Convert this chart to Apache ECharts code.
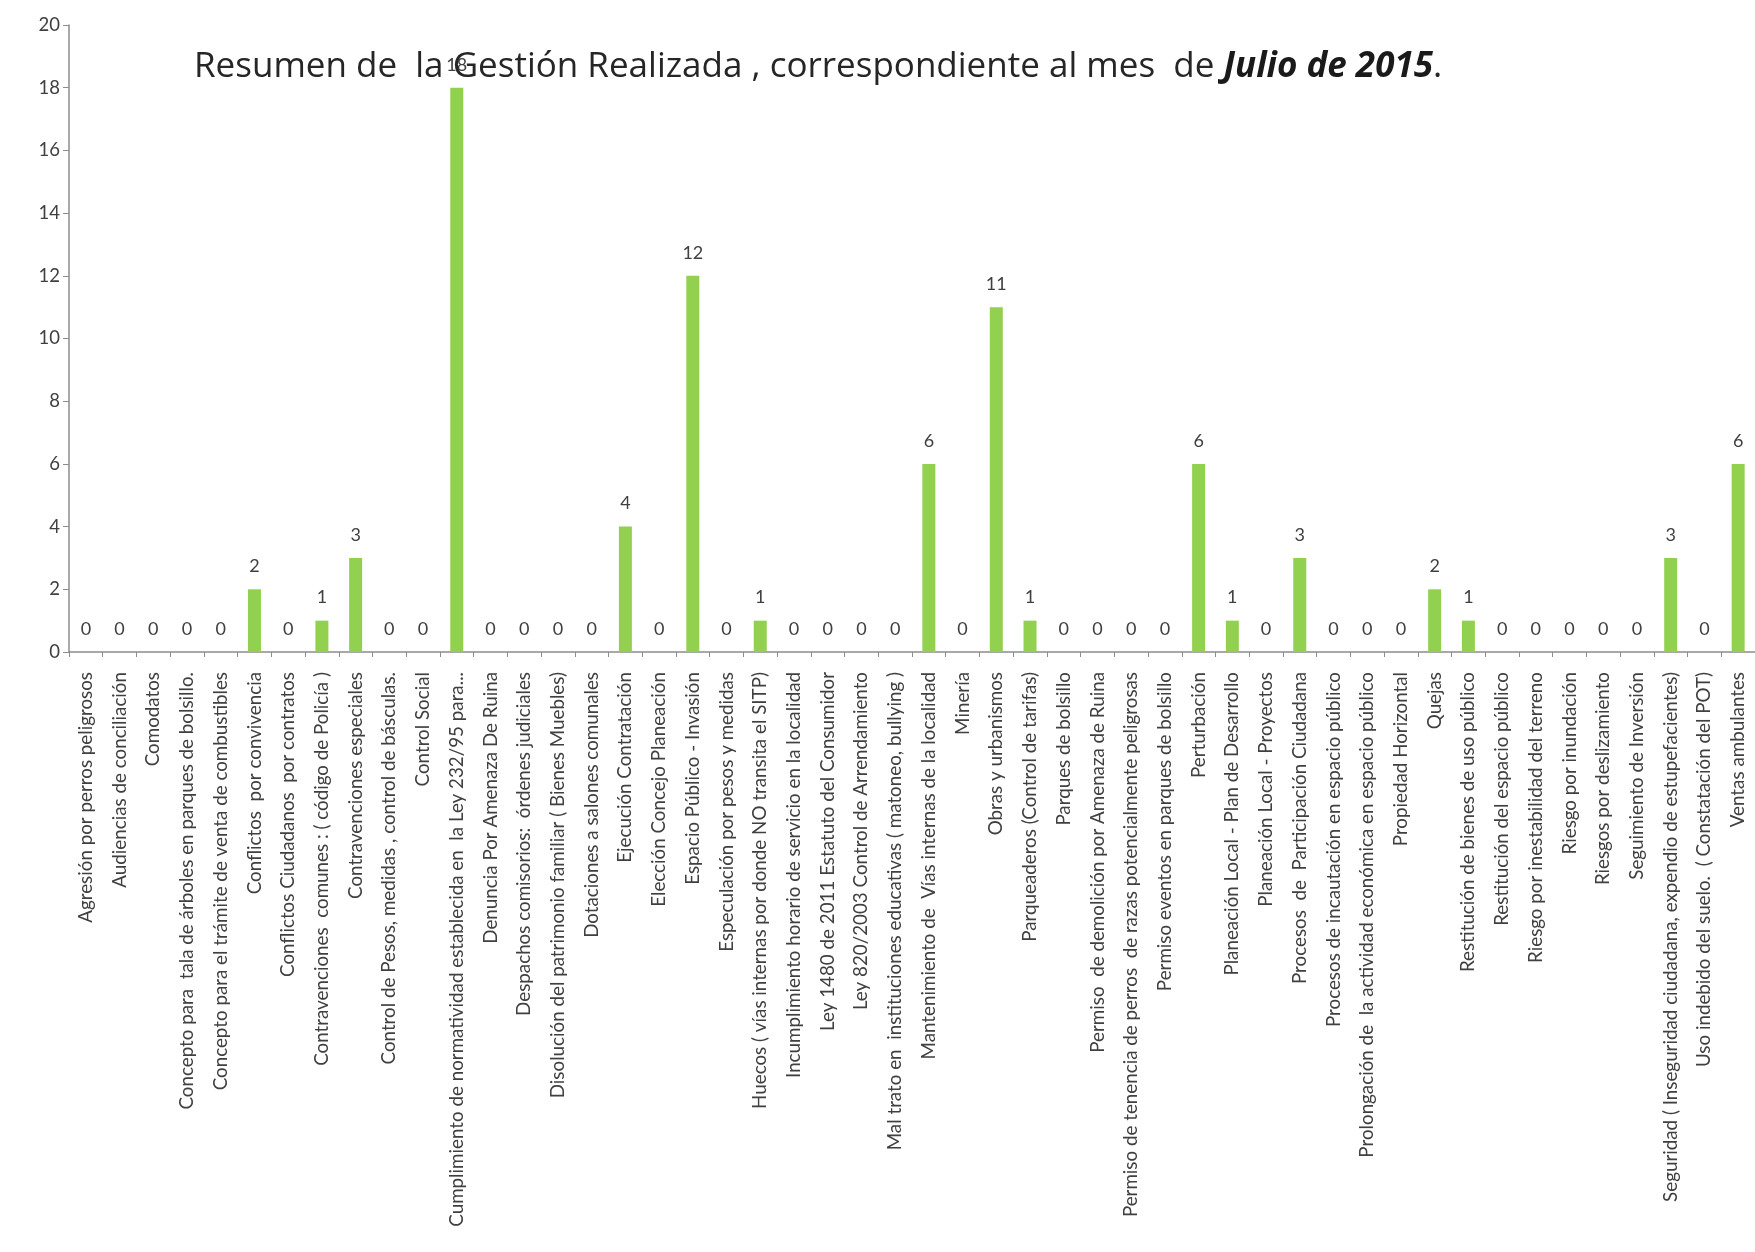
<!DOCTYPE html>
<html>
<head>
<meta charset="utf-8">
<script src="https://cdn.jsdelivr.net/npm/echarts@6/dist/echarts.min.js"></script>
<style>
html,body{margin:0;padding:0;background:#fff;}
#chart{width:1755px;height:1252px;}
</style>
</head>
<body>
<div id="chart"></div>
<script>
const categories = [
  "Agresión por perros peligrosos",
  "Audiencias de conciliación",
  "Comodatos",
  "Concepto para  tala de árboles en parques de bolsillo.",
  "Concepto para el trámite de venta de combustibles",
  "Conflictos  por convivencia",
  "Conflictos Ciudadanos  por contratos",
  "Contravenciones  comunes : ( código de Policía )",
  "Contravenciones especiales",
  "Control de Pesos, medidas , control de básculas.",
  "Control Social",
  "Cumplimiento de normatividad establecida en  la Ley 232/95 para...",
  "Denuncia Por Amenaza De Ruina",
  "Despachos comisorios:  órdenes judiciales",
  "Disolución del patrimonio familiar ( Bienes Muebles)",
  "Dotaciones a salones comunales",
  "Ejecución Contratación",
  "Elección Concejo Planeación",
  "Espacio Público - Invasión",
  "Especulación por pesos y medidas",
  "Huecos ( vías internas por donde NO transita el SITP)",
  "Incumplimiento horario de servicio en la localidad",
  "Ley 1480 de 2011 Estatuto del Consumidor",
  "Ley 820/2003 Control de Arrendamiento",
  "Mal trato en  instituciones educativas ( matoneo, bullying )",
  "Mantenimiento de  Vías internas de la localidad",
  "Minería",
  "Obras y urbanismos",
  "Parqueaderos (Control de tarifas)",
  "Parques de bolsillo",
  "Permiso  de demolición por Amenaza de Ruina",
  "Permiso de tenencia de perros  de razas potencialmente peligrosas",
  "Permiso eventos en parques de bolsillo",
  "Perturbación",
  "Planeación Local - Plan de Desarrollo",
  "Planeación Local - Proyectos",
  "Procesos  de  Participación Ciudadana",
  "Procesos de incautación en espacio público",
  "Prolongación de  la actividad económica en espacio público",
  "Propiedad Horizontal",
  "Quejas",
  "Restitución de bienes de uso público",
  "Restitución del espacio público",
  "Riesgo por inestabilidad del terreno",
  "Riesgo por inundación",
  "Riesgos por deslizamiento",
  "Seguimiento de Inversión",
  "Seguridad ( Inseguridad ciudadana, expendio de estupefacientes)",
  "Uso indebido del suelo.  ( Constatación del POT)",
  "Ventas ambulantes"
];
const values = [
  0, 0, 0, 0, 0, 2, 0, 1, 3, 0,
  0, 18, 0, 0, 0, 0, 4, 0, 12, 0,
  1, 0, 0, 0, 0, 6, 0, 11, 1, 0,
  0, 0, 0, 6, 1, 0, 3, 0, 0, 0,
  2, 1, 0, 0, 0, 0, 0, 3, 0, 6
];
const yMin = 0, yMax = 20, yStep = 2;
const titlePlain = "Resumen de  la Gestión Realizada , correspondiente al mes  de ";
const titleBold = "Julio de 2015";
const titleEnd = ".";

const chart = echarts.init(document.getElementById('chart'), null, {renderer: 'canvas'});
const FONT = "Lato, 'Open Sans', sans-serif";
const TFONT = "'Open Sans', Lato, sans-serif";
chart.setOption({
  backgroundColor: '#ffffff',
  animation: false,
  title: {
    text: '{a|' + titlePlain + '}{b|' + titleBold + '}{a|' + titleEnd + '}',
    left: 194,
    top: 50,
    padding: 0,
    textStyle: {
      fontWeight: 'normal',
      rich: {
        a: {fontFamily: TFONT, fontSize: 35, color: '#262626', fontWeight: 'normal'},
        b: {fontFamily: TFONT, fontSize: 35, color: '#1a1a1a', fontWeight: 'bold', fontStyle: 'italic'}
      }
    }
  },
  grid: {left: 69, right: -4, top: 25, bottom: 600, containLabel: false},
  xAxis: {
    type: 'category',
    data: categories,
    boundaryGap: true,
    axisLine: {show: true, lineStyle: {color: '#8c8c8c', width: 1.5}},
    axisTick: {show: true, alignWithLabel: false, length: 5, lineStyle: {color: '#8c8c8c'}},
    axisLabel: {interval: 0, rotate: 90, margin: 20, fontFamily: FONT, fontSize: 18.8, color: '#404040'},
    splitLine: {show: false}
  },
  yAxis: {
    type: 'value',
    min: yMin, max: yMax, interval: yStep,
    axisLine: {show: true, lineStyle: {color: '#8c8c8c', width: 1.5}},
    axisTick: {show: true, length: 6, lineStyle: {color: '#8c8c8c'}},
    axisLabel: {margin: 9, fontFamily: FONT, fontSize: 18.5, color: '#404040'},
    splitLine: {show: false}
  },
  series: [{
    type: 'bar',
    data: values,
    barWidth: 13,
    itemStyle: {color: '#92D050'},
    label: {show: true, position: 'top', distance: 14, fontFamily: FONT, fontSize: 18, color: '#404040'}
  }]
});
</script>
</body>
</html>
